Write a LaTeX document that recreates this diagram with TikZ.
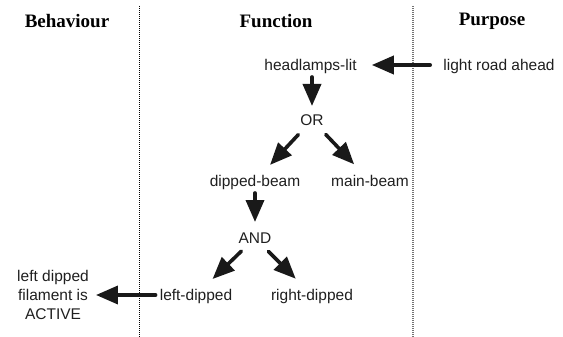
\documentclass[tikz,border=0pt]{standalone}
\usepackage{fontspec}
\setmainfont{Liberation Serif}
\setsansfont{Liberation Sans}
\usetikzlibrary{arrows.meta,calc}
\begin{document}
\begin{tikzpicture}[x=1pt,y=-1pt,
  head/.style={font=\bfseries\fontsize{19}{22}\selectfont, inner sep=0pt},
  lbl/.style={font=\sffamily\fontsize{15.5}{19}\selectfont, text=black!88, inner sep=0pt, text height=11pt, text depth=0pt},
  lblm/.style={font=\sffamily\fontsize{15.5}{19}\selectfont, text=black!88, inner sep=0pt, align=center},
  arr/.style={line width=3.6pt, line cap=round, black!90, -{Triangle[length=22pt,width=18pt]}},
  divider/.style={line width=1pt, dash pattern=on 1pt off 1pt}]
\useasboundingbox (0,0) rectangle (563,337);

% column dividers
\coordinate (d1t) at (139,6);
\coordinate (d1b) at (139,337);
\coordinate (d2t) at (413,6);
\coordinate (d2b) at (413,337);
\draw[divider, black] (d1t) -- (d1b);
\draw[divider, black!55, line width=1.2pt] (d2t) -- (d2b);

% column headings
\node[head] (hb) at (67,21) {Behaviour};
\node[head] (hf) at (276,21) {Function};
\node[head] (hp) at (492,21) {Purpose};

% function tree
\node[lbl] (hl) at (310.5,65) {headlamps-lit};
\node[lbl] (lra) at (499,65) {light road ahead};
\node[lbl] (or) at (312,120) {OR};
\node[lbl] (dip) at (255,181) {dipped-beam};
\node[lbl] (main) at (370,181) {main-beam};
\node[lbl] (and) at (255,238) {AND};
\node[lbl] (ld) at (196,295) {left-dipped};
\node[lbl] (rd) at (312,295) {right-dipped};
\node[lblm] (act) at (53,295) {left dipped\\filament is\\ACTIVE};

% connectors
\draw[arr] ($(lra.west)+(-13,0)$) -- ($(hl.east)+(15,0)$);
\draw[arr] ($(or|-hl)+(0,12)$) -- ($(or)+(0,-14)$);
\draw[arr] ($(or)!20pt!(dip)$) -- ($(dip)!22pt!(or)$);
\draw[arr] ($(or)!20pt!(main)$) -- ($(main)!23pt!(or)$);
\draw[arr] ($(dip)+(0,12)$) -- ($(and)+(0,-16)$);
\draw[arr] ($(and)!19pt!(ld)$) -- ($(ld)!23pt!(and)$);
\draw[arr] ($(and)!19pt!(rd)$) -- ($(rd)!23pt!(and)$);
\draw[arr] ($(ld.west)+(-4,0)$) -- ($(act.east)+(7,0)$);
\end{tikzpicture}
\end{document}
